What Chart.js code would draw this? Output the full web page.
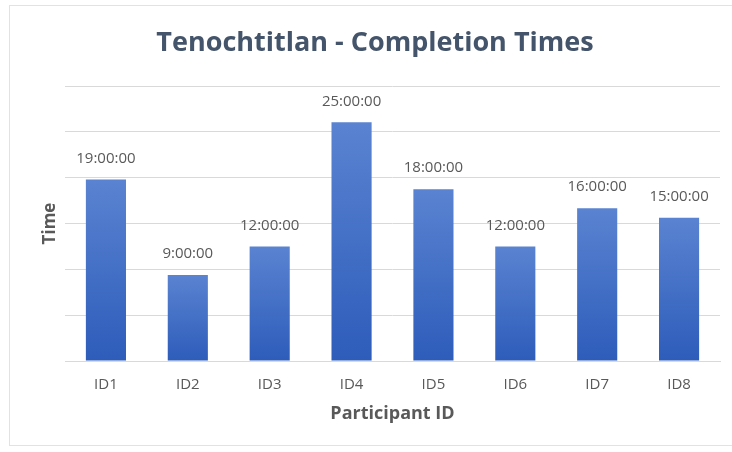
<!DOCTYPE html>
<html>
<head>
<meta charset="utf-8">
<script src="https://cdn.jsdelivr.net/npm/chart.js@4"></script>
<style>
  html, body { margin: 0; padding: 0; background: #ffffff; }
  #wrap { position: absolute; left: 0; top: 0; width: 732px; height: 452px; overflow: hidden; }
  #frame { position: absolute; left: 9px; top: 5px; width: 740px; height: 441px; border: 1px solid #e2e2e2; box-sizing: border-box; }
  canvas { position: absolute; left: 0; top: 0; }
</style>
</head>
<body>
<div id="wrap">
  <div id="frame"></div>
  <canvas id="c" width="732" height="452"></canvas>
</div>
<script>
const categories = ["ID1", "ID2", "ID3", "ID4", "ID5", "ID6", "ID7", "ID8"];
// completion time in hours
const hours = [19, 9, 12, 25, 18, 12, 16, 15];
const valueLabels = ["19:00:00", "9:00:00", "12:00:00", "25:00:00", "18:00:00", "12:00:00", "16:00:00", "15:00:00"];
// gridline positions (hours) – Excel major unit 0.2 day
const gridTicks = [0, 4.8, 9.6, 14.4, 19.2, 24, 28.8];

const FONT = "'Open Sans', 'Noto Sans', sans-serif";

const labelPlugin = {
  id: 'valueLabels',
  afterDatasetsDraw(chart) {
    const ctx = chart.ctx;
    const meta = chart.getDatasetMeta(0);
    ctx.save();
    ctx.font = "15px " + FONT;
    ctx.fillStyle = "#595959";
    ctx.textAlign = "center";
    ctx.textBaseline = "middle";
    meta.data.forEach((bar, i) => {
      ctx.fillText(valueLabels[i], bar.x, bar.y - 21);
    });
    ctx.restore();
  }
};

function barGradient(context) {
  const chart = context.chart;
  const area = chart.chartArea;
  const yScale = chart.scales && chart.scales.y;
  if (!area || !yScale || context.dataIndex === undefined) return '#4472c4';
  const v = context.dataset.data[context.dataIndex];
  const top = yScale.getPixelForValue(v);
  const bottom = yScale.getPixelForValue(0);
  if (!isFinite(top) || !isFinite(bottom) || top === bottom) return '#4472c4';
  const g = chart.ctx.createLinearGradient(0, top, 0, bottom);
  g.addColorStop(0, '#5a83d1');
  g.addColorStop(1, '#2d5cba');
  return g;
}

const ctx = document.getElementById('c').getContext('2d');
new Chart(ctx, {
  type: 'bar',
  data: {
    labels: categories,
    datasets: [{
      data: hours,
      backgroundColor: barGradient,
      borderWidth: 0,
      barPercentage: 0.49,
      categoryPercentage: 1.0
    }]
  },
  options: {
    responsive: false,
    animation: false,
    devicePixelRatio: 1,
    layout: { padding: { left: 30, right: 12, top: 10, bottom: 27 } },
    plugins: {
      legend: { display: false },
      tooltip: { enabled: false },
      title: {
        display: true,
        text: 'Tenochtitlan - Completion Times',
        color: '#44546a',
        font: { family: FONT, size: 27, weight: 'bold' },
        padding: { top: 17, bottom: 26.6 }
      }
    },
    scales: {
      x: {
        afterFit: (axis) => { axis.height = 64; },
        grid: { display: false, drawTicks: false },
        border: { display: true, color: '#d9d9d9', width: 1 },
        ticks: { color: '#595959', font: { family: FONT, size: 15 }, padding: 15 },
        title: {
          display: true,
          text: 'Participant ID',
          color: '#595959',
          font: { family: FONT, size: 18, weight: 'bold' },
          padding: { top: 0, bottom: 0 }
        }
      },
      y: {
        min: 0,
        max: 28.8,
        afterFit: (axis) => { axis.width = 35; },
        afterBuildTicks: (axis) => { axis.ticks = gridTicks.map(v => ({ value: v })); },
        grid: { color: '#d9d9d9', drawTicks: false },
        border: { display: false },
        ticks: { display: false },
        title: {
          display: true,
          text: 'Time',
          color: '#595959',
          font: { family: FONT, size: 17, weight: 'bold' },
          padding: { top: 10, bottom: 0 }
        }
      }
    }
  },
  plugins: [labelPlugin]
});
</script>
</body>
</html>
